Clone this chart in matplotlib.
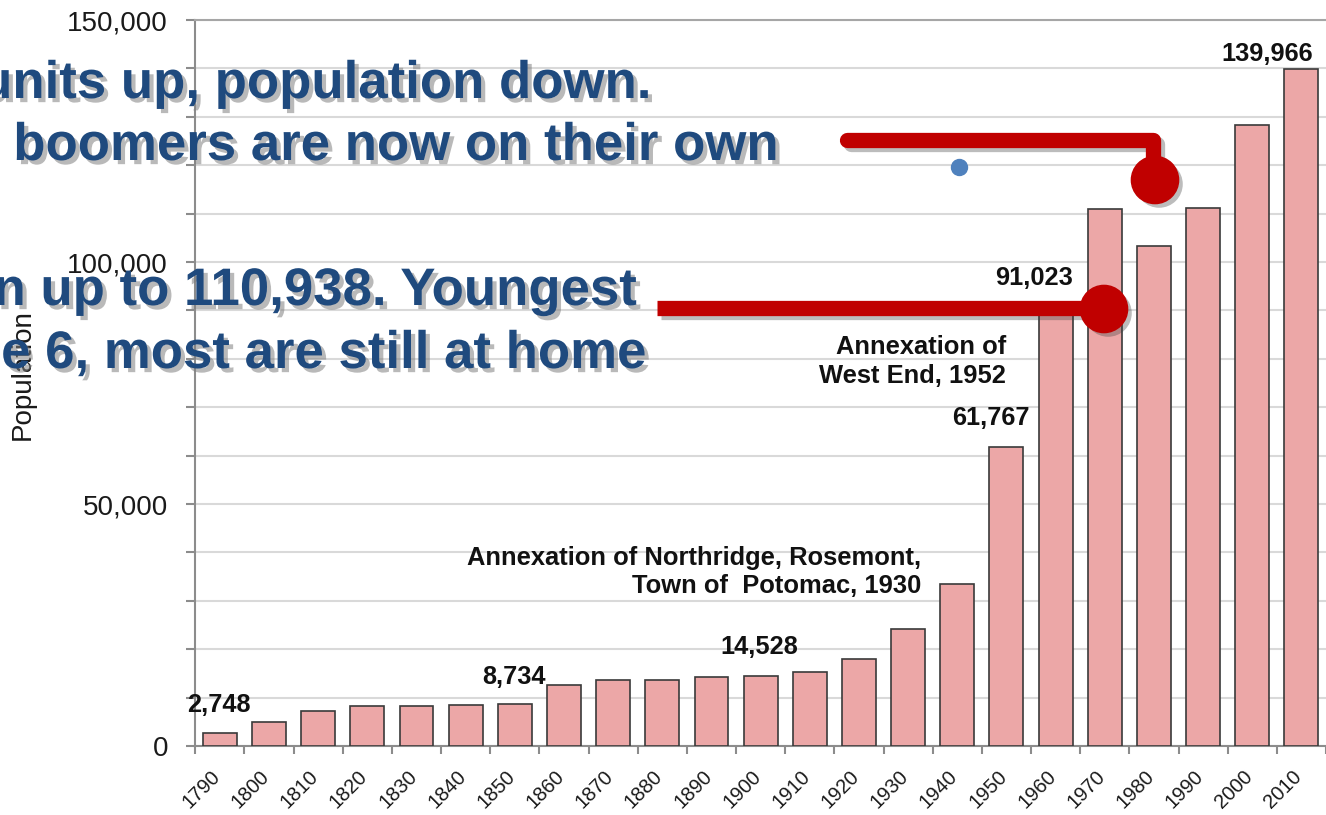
import matplotlib.pyplot as plt
import matplotlib.patheffects as pe
from matplotlib.lines import Line2D
from matplotlib.ticker import MultipleLocator, FuncFormatter
from matplotlib.transforms import ScaledTranslation

years = [1790, 1800, 1810, 1820, 1830, 1840, 1850, 1860, 1870, 1880, 1890, 1900,
         1910, 1920, 1930, 1940, 1950, 1960, 1970, 1980, 1990, 2000, 2010]
population = [2748, 4971, 7227, 8218, 8241, 8459, 8734, 12652, 13570, 13659, 14339, 14528,
              15329, 18060, 24149, 33523, 61767, 91023, 110938, 103217, 111183, 128283, 139966]
labelled_years = [1790, 1850, 1900, 1950, 1960, 2010]

overlay_lines = ['units up, population down.',
                 'boomers are now on their own',
                 'n up to 110,938. Youngest',
                 'e 6, most are still at home']
note_1930 = ['Annexation of Northridge, Rosemont,', 'Town of  Potomac, 1930']
note_1952 = ['Annexation of', 'West End, 1952']

plt.rcParams['font.family'] = ['Liberation Sans', 'DejaVu Sans']

W, H = 1326, 815
fig = plt.figure(figsize=(W / 100, H / 100), dpi=100)
ax = fig.add_axes([195 / W, (H - 746) / H, (W - 195) / W, 726 / H])

x = list(range(len(years)))
ax.bar(x, population, width=0.69, color='#ECA7A7', edgecolor='#3a3a3a', linewidth=1.2, zorder=3)

ax.set_xlim(-0.506, 22.405)
ax.set_ylim(0, 150000)

# labels above some bars, nudged like the original (pixels)
label_shift = {1790: (-1, 21), 1850: (-1, 20), 1900: (-1, 22),
               1950: (-16, 22), 1960: (-22, 20), 2010: (-34, 8)}
for yr in labelled_years:
    i = years.index(yr)
    dx, dy = label_shift[yr]
    ax.annotate(f'{population[i]:,}', xy=(i, population[i]), xytext=(dx * 0.72, dy * 0.72),
                textcoords='offset points', ha='center', va='baseline',
                fontsize=18.3, fontweight='bold', color='#111111', zorder=5)

# annexation notes
note_kw = dict(ha='right', va='baseline', fontsize=18.4, fontweight='bold', color='#111111')
ax.text(14.27, 37400, note_1930[0], **note_kw)
ax.text(14.27, 31600, note_1930[1], **note_kw)
ax.text(15.99, 80990, note_1952[0], **note_kw)
ax.text(15.99, 75000, note_1952[1], **note_kw)

# axes styling
ax.set_xticks(x)
ax.set_xticklabels([str(y) for y in years], rotation=45, ha='right', va='top')
ax.set_xticks([i - 0.5 for i in x] + [x[-1] + 0.5], minor=True)
ax.tick_params(axis='x', which='major', length=0, pad=15, labelsize=14.5, colors='#1a1a1a')
ax.tick_params(axis='x', which='minor', length=6, width=1.5, color='#8c8c8c')
shift = ScaledTranslation(0.04, 0, fig.dpi_scale_trans)
for lbl in ax.get_xticklabels():
    lbl.set_transform(lbl.get_transform() + shift)

ax.yaxis.set_major_locator(MultipleLocator(50000))
ax.yaxis.set_minor_locator(MultipleLocator(10000))
ax.yaxis.set_major_formatter(FuncFormatter(lambda v, p: f'{int(v):,}'))
ax.tick_params(axis='y', which='both', length=6.5, width=1.5, color='#8c8c8c')
ax.tick_params(axis='y', which='major', pad=13, labelsize=20, labelcolor='#1a1a1a')
ax.grid(axis='y', which='both', color='#d9d9d9', linewidth=1.5, zorder=0)
ax.set_axisbelow(True)

ax.set_ylabel('Population', fontsize=20, color='#1a1a1a')
ax.yaxis.set_label_coords(-0.141, 0.511)

for side in ['left', 'bottom']:
    ax.spines[side].set_color('#8c8c8c')
    ax.spines[side].set_linewidth(1.5)
ax.spines['top'].set_color('#a6a6a6')
ax.spines['top'].set_linewidth(1.5)
ax.spines['right'].set_visible(False)

# slide overlay: blue text, red callouts (figure pixels from top-left)
def fx(px):
    return px / W

def fy(py):
    return 1 - py / H

text_shadow = [pe.withSimplePatchShadow(offset=(3, -3), shadow_rgbFace='#808080', alpha=0.55)]
overlay_pos = [(650, 98), (777, 160), (636, 305), (645, 368)]
for txt, (px, py) in zip(overlay_lines, overlay_pos):
    fig.text(fx(px), fy(py), txt, ha='right', va='baseline', fontsize=38,
             fontweight='bold', color='#1f4a7e', path_effects=text_shadow)

red = '#c00000'
line_shadow = [pe.SimpleLineShadow(offset=(3, -3), shadow_color='#404040', alpha=0.35), pe.Normal()]
dot_shadow = [pe.withSimplePatchShadow(offset=(3, -3), shadow_rgbFace='#404040', alpha=0.35)]

fig.add_artist(Line2D([fx(847), fx(1153), fx(1153)], [fy(140), fy(140), fy(175)],
                      transform=fig.transFigure, color=red, linewidth=11,
                      solid_capstyle='round', solid_joinstyle='round', path_effects=line_shadow))
fig.add_artist(Line2D([fx(1155)], [fy(180)], transform=fig.transFigure, marker='o', markersize=34,
                      color=red, linestyle='', path_effects=dot_shadow))
fig.add_artist(Line2D([fx(657), fx(1100)], [fy(308), fy(308)],
                      transform=fig.transFigure, color=red, linewidth=11,
                      solid_capstyle='butt', path_effects=line_shadow))
fig.add_artist(Line2D([fx(1104)], [fy(309)], transform=fig.transFigure, marker='o', markersize=34,
                      color=red, linestyle='', path_effects=dot_shadow))
fig.add_artist(Line2D([fx(959)], [fy(167)], transform=fig.transFigure, marker='o', markersize=11.5,
                      color='#4f81bd', linestyle=''))

fig.savefig('out.png', dpi=100)
